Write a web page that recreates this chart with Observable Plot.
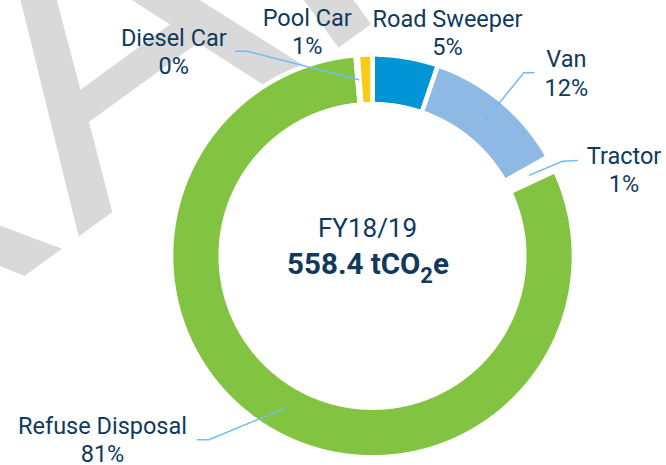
<!DOCTYPE html>
<html><head><meta charset="utf-8">
<script src="https://cdn.jsdelivr.net/npm/d3@7"></script>
<script src="https://cdn.jsdelivr.net/npm/@observablehq/plot@0.6"></script>
<style>
html,body{margin:0;padding:0;background:#fff;}
#wrap{position:relative;width:666px;height:465px;overflow:hidden;font-family:Roboto,sans-serif;}
#wm,#chart{position:absolute;left:0;top:0;}
</style></head><body>
<div id="wrap"><svg id="wm" width="666" height="465"></svg><div id="chart"></div></div>
<script>
// ---- data ----
const categories = ["Road Sweeper", "Van", "Tractor", "Refuse Disposal", "Diesel Car", "Pool Car"];
const values = [29.4, 64.5, 7.0, 450.0, 1.0, 6.5]; // tCO2e
const period = "FY18/19";
const unitLabel = "tCO2e";

// ---- styles / layout ----
const colors = ["#0096d6", "#8fb9e5", "#ffffff", "#82c341", "#9aa0a6", "#fdc918"];
const W = 666, H = 465, cx = 372, cy = 255.4;
const rOuter = 201.4, rInner = 151.8, sepWidth = 4.5;
const textColor = "#0f3a5e", leaderColor = "#71bdf2";
// label: center x, baseline of second line (page px)
const labelPos = {
  "Road Sweeper": [447, 54.3], "Van": [565.8, 95], "Tractor": [623.5, 191.7],
  "Refuse Disposal": [102, 461.7], "Diesel Car": [173.3, 73.3], "Pool Car": [306.7, 53.3]
};
// leader: text-side anchor and elbow (page px)
const leaderPos = {
  "Diesel Car": [[235, 50.7], [246.7, 50.7]],
  "Van": [[533.3, 72.3], [523.3, 72.3]],
  "Tractor": [[576.7, 160], [562, 160.7]],
  "Refuse Disposal": [[196.7, 439.3], [208.3, 439.3]]
};

// watermark (decoration)
const wm = d3.select("#wm");
const wx = 78, wy = 237, wr = -36, wfs = 430;
for (const [txt, anchor] of [["AFT", "start"], ["DR", "end"]]) {
  wm.append("text").attr("x", wx).attr("y", wy).attr("transform", `rotate(${wr} ${wx} ${wy})`)
    .attr("font-family", "Liberation Sans").attr("font-size", wfs).attr("fill", "#d9d9d9")
    .attr("text-anchor", anchor).text(txt);
}

// ---- geometry from values ----
const total = d3.sum(values);
const arcs = d3.pie().sort(null).startAngle(0).endAngle(2 * Math.PI)(values);
const slicePts = [];
arcs.forEach((a, i) => {
  const n = Math.max(2, Math.ceil((a.endAngle - a.startAngle) / 0.004));
  const pts = [];
  for (let k = 0; k <= n; k++) { const t = a.startAngle + (a.endAngle - a.startAngle) * k / n; pts.push([rOuter * Math.sin(t), -rOuter * Math.cos(t)]); }
  for (let k = n; k >= 0; k--) { const t = a.startAngle + (a.endAngle - a.startAngle) * k / n; pts.push([rInner * Math.sin(t), -rInner * Math.cos(t)]); }
  pts.push(pts[0]);
  pts.forEach(([x, y], j) => slicePts.push({name: categories[i], x, y, j}));
});

const labels = categories.map((c, i) => ({
  x: labelPos[c][0] - cx, y: labelPos[c][1] - cy,
  text: `${c}\n${Math.round(values[i] / total * 100)}%`
}));

const leaders = [];
categories.forEach((c, i) => {
  if (!leaderPos[c]) return;
  const a = arcs[i], mid = (a.startAngle + a.endAngle) / 2, rm = (rOuter + rInner) / 2;
  const [p0, p1] = leaderPos[c];
  leaders.push({name: c, x: p0[0] - cx, y: p0[1] - cy});
  leaders.push({name: c, x: p1[0] - cx, y: p1[1] - cy});
  leaders.push({name: c, x: rm * Math.sin(mid), y: -rm * Math.cos(mid)});
});

const centerText = [
  {x: -5, y: 236.7 - cy, text: period},
  {x: -4.5, y: 273.5 - cy, text: `${total.toFixed(1)} ${unitLabel}`}
];

const plot = Plot.plot({
  width: W, height: H, margin: 0,
  style: {background: "transparent", fontFamily: "Roboto, sans-serif"},
  x: {domain: [-cx, W - cx], range: [0, W], axis: null},
  y: {domain: [-cy, H - cy], range: [0, H], axis: null},
  color: {domain: categories, range: colors},
  marks: [
    Plot.line(slicePts, {x: "x", y: "y", z: "name", fill: "name", stroke: "white", strokeWidth: sepWidth, strokeLinejoin: "miter", curve: "linear"}),
    Plot.line(leaders, {x: "x", y: "y", z: "name", stroke: leaderColor, strokeWidth: 1.5}),
    Plot.text(labels, {x: "x", y: "y", text: "text", fontSize: 23.5, lineHeight: 1.2, lineAnchor: "bottom", textAnchor: "middle", fill: textColor}),
    Plot.text(centerText.slice(0, 1), {x: "x", y: "y", text: "text", fontSize: 26, lineAnchor: "bottom", fill: textColor}),
    Plot.text(centerText.slice(1), {x: "x", y: "y", text: "text", fontSize: 29.5, fontWeight: 700, lineAnchor: "bottom", fill: textColor})
  ]
});
document.getElementById("chart").appendChild(plot);

// subscript the 2 in CO2
for (const t of plot.querySelectorAll("text")) {
  if (t.textContent.includes("CO2") && t.childElementCount === 0) {
    const [a, b] = t.textContent.split("CO2");
    t.textContent = "";
    const ns = "http://www.w3.org/2000/svg";
    const s1 = document.createElementNS(ns, "tspan"); s1.textContent = a + "CO";
    const s2 = document.createElementNS(ns, "tspan"); s2.textContent = "2"; s2.setAttribute("font-size", "22"); s2.setAttribute("dy", "9");
    const s3 = document.createElementNS(ns, "tspan"); s3.textContent = b; s3.setAttribute("dy", "-9");
    t.append(s1, s2, s3);
  }
}
</script>
</body></html>
